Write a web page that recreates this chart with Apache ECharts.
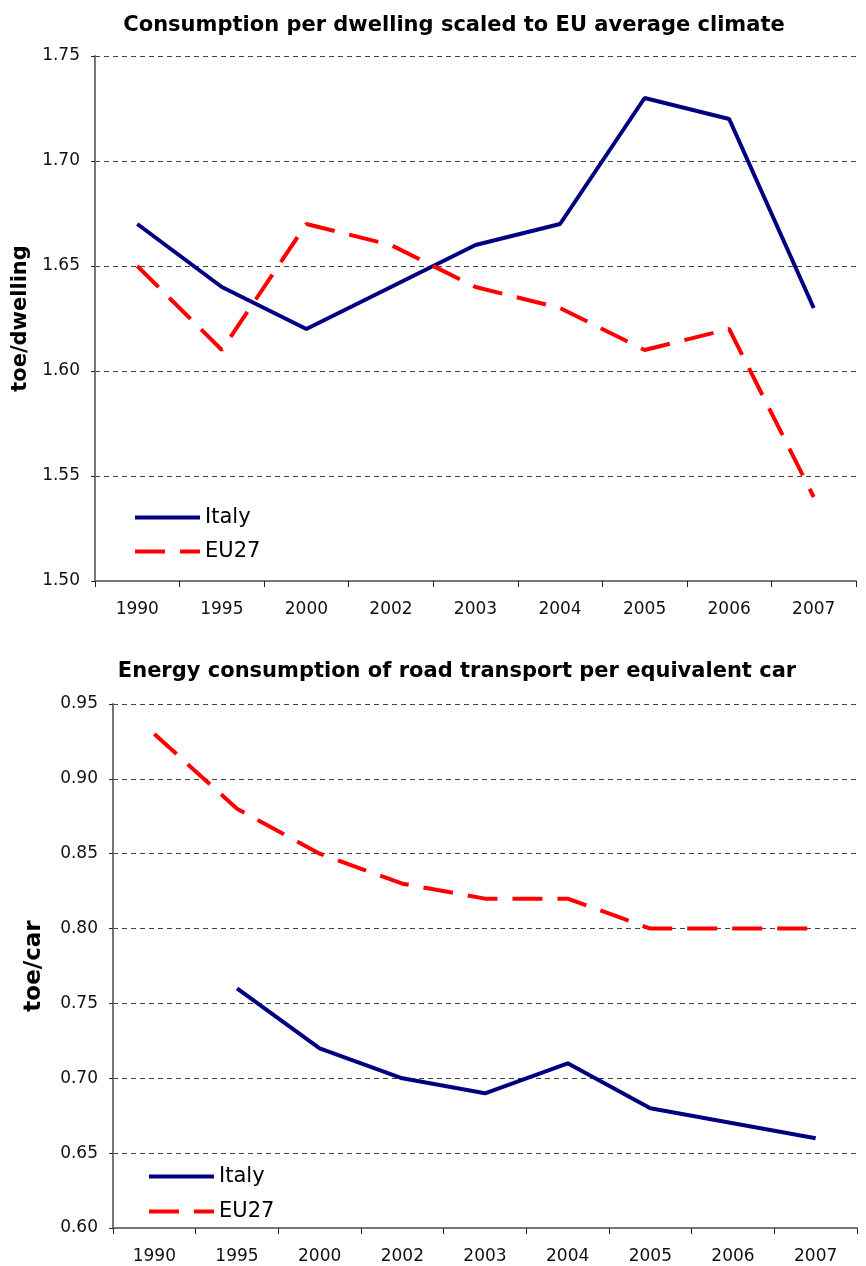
<!DOCTYPE html>
<html>
<head>
<meta charset="utf-8">
<script src="https://cdn.jsdelivr.net/npm/echarts@6/dist/echarts.min.js"></script>
<style>
  html, body { margin: 0; padding: 0; background: #fff; }
  #chart { width: 866px; height: 1266px; }
</style>
</head>
<body>
<div id="chart"></div>
<script>
// Years shown on both panels
const years = ['1990', '1995', '2000', '2002', '2003', '2004', '2005', '2006', '2007'];

// Households: consumption per dwelling scaled to EU average climate (toe/dwelling)
const dwellingItaly = [1.67, 1.64, 1.62, 1.64, 1.66, 1.67, 1.73, 1.72, 1.63];
const dwellingEU27  = [1.65, 1.61, 1.67, 1.66, 1.64, 1.63, 1.61, 1.62, 1.54];

// Road transport: energy consumption per equivalent car (toe/car)
const carItaly = [null, 0.76, 0.72, 0.70, 0.69, 0.71, 0.68, 0.67, 0.66];
const carEU27  = [0.93, 0.88, 0.85, 0.83, 0.82, 0.82, 0.80, 0.80, 0.80];

const FONT = '"DejaVu Sans", Verdana, sans-serif';
const NAVY = '#000080';
const RED = '#ff0000';

function xAxis(gridIndex) {
  return {
    type: 'category', gridIndex, data: years,
    axisLine: { lineStyle: { color: '#777', width: 2 } },
    axisTick: { show: true, length: 6, lineStyle: { color: '#222', width: 1 } },
    axisLabel: { color: '#111', fontFamily: FONT, fontSize: 17, margin: 20 },
    splitLine: { show: false }
  };
}
function yAxis(gridIndex, min, max, name, gap, nameSize) {
  return {
    type: 'value', gridIndex, min, max, interval: 0.05,
    name, nameLocation: 'middle', nameRotate: 90, nameGap: gap,
    nameTextStyle: { fontFamily: FONT, fontSize: nameSize, fontWeight: 'bold', color: '#000' },
    axisLine: { show: true, lineStyle: { color: '#777', width: 2 } },
    axisTick: { show: true, length: 4, lineStyle: { color: '#222' } },
    axisLabel: { color: '#111', fontFamily: FONT, fontSize: 17, margin: 15,
      formatter: v => v.toFixed(2) },
    splitLine: { show: true, lineStyle: { color: '#444', type: [5, 4], width: 1 } }
  };
}
function line(name, data, xi, dashed) {
  return {
    type: 'line', name, data, xAxisIndex: xi, yAxisIndex: xi,
    symbol: 'none', connectNulls: false, animation: false,
    lineStyle: dashed ? { color: RED, width: 4, type: [30, 15] } : { color: NAVY, width: 4 },
    itemStyle: { color: dashed ? RED : NAVY }
  };
}
// One legend entry per component so each row can be placed on its own
function legendItem(name, left, centerY) {
  return {
    left, top: centerY - 12, itemWidth: 65, itemHeight: 24, itemGap: 0,
    itemStyle: { opacity: 0 },
    lineStyle: { width: 4 },
    textStyle: { fontFamily: FONT, fontSize: 21, color: '#000', padding: [0, 0, 0, 0] },
    data: [name]
  };
}

const chart = echarts.init(document.getElementById('chart'), null, { renderer: 'canvas' });
chart.setOption({
  backgroundColor: '#fff',
  animation: false,
  title: [
    { text: 'Consumption per dwelling scaled to EU average climate', left: 449, top: 10, textAlign: 'center',
      textStyle: { fontFamily: FONT, fontSize: 21, fontWeight: 'bold', color: '#000' } },
    { text: 'Energy consumption of road transport per equivalent car', left: 452, top: 656, textAlign: 'center',
      textStyle: { fontFamily: FONT, fontSize: 21, fontWeight: 'bold', color: '#000' } }
  ],
  grid: [
    { left: 95, right: 10, top: 56, height: 525, outerBoundsMode: 'none' },
    { left: 113, right: 9, top: 704, height: 524, outerBoundsMode: 'none' }
  ],
  xAxis: [xAxis(0), xAxis(1)],
  yAxis: [
    yAxis(0, 1.5, 1.75, 'toe/dwelling', 64, 21),
    yAxis(1, 0.6, 0.95, 'toe/car', 67, 23)
  ],
  legend: [
    legendItem('Italy', 128, 514), legendItem('EU27', 128, 548),
    legendItem('Italy', 142, 1173), legendItem('EU27', 142, 1208)
  ],
  series: [
    line('Italy', dwellingItaly, 0, false),
    line('EU27', dwellingEU27, 0, true),
    line('Italy', carItaly, 1, false),
    line('EU27', carEU27, 1, true)
  ]
});
</script>
</body>
</html>
